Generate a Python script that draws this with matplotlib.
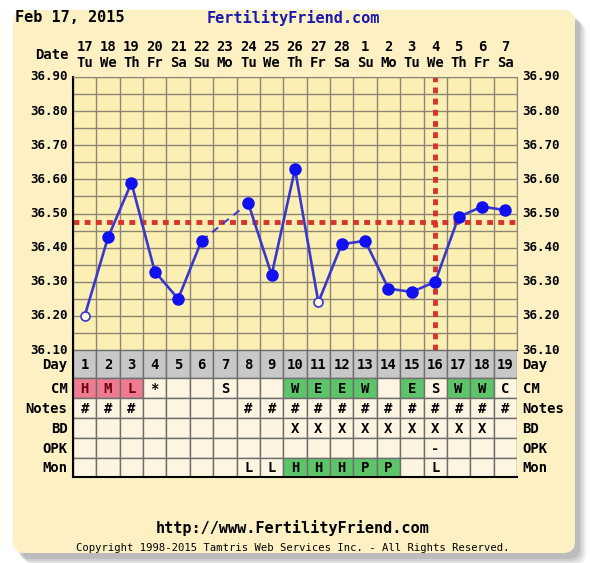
import matplotlib
matplotlib.use("Agg")
import matplotlib.pyplot as plt
import matplotlib.transforms as mtransforms
from matplotlib.patches import FancyBboxPatch, Rectangle
import numpy as np

# ---- data ----
cycle_days = list(range(1, 20))
dates = ["17", "18", "19", "20", "21", "22", "23", "24", "25", "26",
         "27", "28", "1", "2", "3", "4", "5", "6", "7"]
weekdays = ["Tu", "We", "Th", "Fr", "Sa", "Su", "Mo", "Tu", "We", "Th",
            "Fr", "Sa", "Su", "Mo", "Tu", "We", "Th", "Fr", "Sa"]
temps = [36.20, 36.43, 36.59, 36.33, 36.25, 36.42, None, 36.53, 36.32, 36.63,
         36.24, 36.41, 36.42, 36.28, 36.27, 36.30, 36.49, 36.52, 36.51]
open_days = [1, 11]          # discarded / open temperatures
coverline = 36.475
ovulation_day = 16
yticks = [36.10, 36.20, 36.30, 36.40, 36.50, 36.60, 36.70, 36.80, 36.90]

cm = {1: "H", 2: "M", 3: "L", 4: "*", 7: "S", 10: "W", 11: "E", 12: "E",
      13: "W", 15: "E", 16: "S", 17: "W", 18: "W", 19: "C"}
cm_pink = [1, 2, 3]
cm_green = [10, 11, 12, 13, 15, 17, 18]
notes = {d: "#" for d in [1, 2, 3] + list(range(8, 20))}
bd = {d: "X" for d in range(10, 19)}
opk = {16: "-"}
mon = {8: "L", 9: "L", 10: "H", 11: "H", 12: "H", 13: "P", 14: "P", 16: "L"}
mon_green = [10, 11, 12, 13, 14]
row_names = ["Day", "CM", "Notes", "BD", "OPK", "Mon"]

# ---- style ----
W, H = 590, 563
FONT = "DejaVu Sans Mono"
panel_c = "#fdf1c4"
chart_c = "#fcefb4"
cell_c = "#fdf5e1"
grid_c = "#8c8474"
blue = "#3838cc"
red = "#d8322a"

fig = plt.figure(figsize=(W / 100, H / 100), dpi=100)
fig.patch.set_facecolor("white")

def fx(px):
    return px / W

def fy(py):
    return 1 - py / H

# panel with shadow
for i, a in enumerate([0.10, 0.12, 0.15, 0.2]):
    off = 10 - i * 2
    fig.patches.append(FancyBboxPatch((fx(14 + off), fy(555 + off)), fx(562), 543 / H,
                                      boxstyle="round,pad=0,rounding_size=0.02",
                                      transform=fig.transFigure, fc="#707070",
                                      ec="none", alpha=a, zorder=-3))
fig.patches.append(FancyBboxPatch((fx(13), fy(553)), fx(562), 543 / H,
                                  boxstyle="round,pad=0,rounding_size=0.02",
                                  transform=fig.transFigure, fc=panel_c,
                                  ec="none", zorder=-2))

# ---- temperature chart ----
ax = fig.add_axes([fx(73), fy(350), fx(444), 273 / H])
ax.set_facecolor(chart_c)
ax.set_xlim(0.5, 19.5)
ax.set_ylim(36.10, 36.90)
ax.set_xticks(np.arange(0.5, 19.6, 1))
ax.set_yticks(np.arange(36.10, 36.91, 0.05))
ax.grid(True, color=grid_c, lw=1)
ax.tick_params(length=0, labelleft=False, labelbottom=False)
for s in ax.spines.values():
    s.set_color(grid_c)
ax.spines["left"].set_color("black")
ax.spines["left"].set_linewidth(1.5)
ax.spines["bottom"].set_color("black")
ax.set_axisbelow(True)

ax.axhline(coverline, color=red, lw=3.5, ls=(0, (1.2, 1.1)), zorder=2)
ax.axvline(ovulation_day, color=red, lw=3.5, ls=(0, (1.2, 1.1)), zorder=2)

# solid segments, dashed over the gap
seg_x, seg_y = [], []
prev = None
for d, t in zip(cycle_days, temps):
    if t is None:
        if seg_x:
            ax.plot(seg_x, seg_y, color=blue, lw=1.9, zorder=3)
        seg_x, seg_y = [], []
        continue
    if prev is not None and prev[0] != d - 1:
        ax.plot([prev[0], d], [prev[1], t], color=blue, lw=1.4,
                ls=(0, (4, 3)), zorder=3)
    seg_x.append(d)
    seg_y.append(t)
    prev = (d, t)
ax.plot(seg_x, seg_y, color=blue, lw=1.9, zorder=3)

for d, t in zip(cycle_days, temps):
    if t is None:
        continue
    if d in open_days:
        ax.plot(d, t, "o", ms=6.5, mfc="#fff8e8", mec=blue, mew=1.2, zorder=4)
    else:
        ax.plot(d, t, "o", ms=8, mfc="#1010f0", mec="#1010f0", zorder=4)

# y labels both sides
for v in yticks:
    ax.annotate(f"{v:.2f}", (0.5, v), xytext=(-4, 0), textcoords="offset points",
                ha="right", va="center", fontsize=9, fontweight="bold",
                family=FONT, annotation_clip=False)
    ax.annotate(f"{v:.2f}", (19.5, v), xytext=(4, 0), textcoords="offset points",
                ha="left", va="center", fontsize=9, fontweight="bold",
                family=FONT, annotation_clip=False)

# header dates
tr = mtransforms.blended_transform_factory(ax.transData, fig.transFigure)
for d, dt, wd in zip(cycle_days, dates, weekdays):
    ax.text(d, fy(47), dt, transform=tr, ha="center", va="center",
            fontsize=10, fontweight="bold", family=FONT)
    ax.text(d, fy(63), wd, transform=tr, ha="center", va="center",
            fontsize=10, fontweight="bold", family=FONT)
fig.text(fx(69), fy(55), "Date", ha="right", va="center", fontsize=10,
         fontweight="bold", family=FONT)

# ---- table ----
tab = fig.add_axes([fx(73), fy(477), fx(444), 127 / H])
heights = [28, 20, 20, 20, 20, 19]
tops = np.concatenate([[0], np.cumsum(heights)])
tab.set_xlim(0.5, 19.5)
tab.set_ylim(tops[-1], 0)
tab.axis("off")

rows = [None, cm, notes, bd, opk, mon]
for r, name in enumerate(row_names):
    y0, h = tops[r], heights[r]
    yc = y0 + h / 2
    for d in cycle_days:
        if r == 0:
            fc = "#c8c8c8"
        elif r == 1 and d in cm_pink:
            fc = "#ee7b90"
        elif (r == 1 and d in cm_green) or (r == 5 and d in mon_green):
            fc = "#5cc56a"
        else:
            fc = cell_c
        tab.add_patch(Rectangle((d - 0.5, y0), 1, h, fc=fc, ec="#6e6e6e", lw=1))
        if r == 0:
            txt = str(d)
            col = "black"
        else:
            txt = rows[r].get(d, "")
            col = "#6a0010" if (r == 1 and d in cm_pink) else "black"
        if txt:
            tab.text(d, yc + 1, txt, ha="center", va="center", fontsize=10,
                     fontweight="bold", family=FONT, color=col)
    tab.annotate(name, (0.5, yc + 1), xytext=(-4, 0), textcoords="offset points",
                 ha="right", va="center", fontsize=10, fontweight="bold",
                 family=FONT, annotation_clip=False)
    tab.annotate(name, (19.5, yc + 1), xytext=(4, 0), textcoords="offset points",
                 ha="left", va="center", fontsize=10, fontweight="bold",
                 family=FONT, annotation_clip=False)
tab.plot([0.5, 0.5], [0, tops[-1]], color="black", lw=1.5, clip_on=False)
tab.plot([0.5, 19.5], [tops[-1], tops[-1]], color="black", lw=1.5, clip_on=False)

# ---- titles / footer ----
fig.text(fx(15), fy(18), "Feb 17, 2015", ha="left", va="center", fontsize=11,
         fontweight="bold", family=FONT)
fig.text(fx(293), fy(18), "FertilityFriend.com", ha="center", va="center",
         fontsize=11, fontweight="bold", family=FONT, color="#1a1ab0")
fig.text(fx(293), fy(528), "http://www.FertilityFriend.com", ha="center",
         va="center", fontsize=11, fontweight="bold", family=FONT)
fig.text(fx(293), fy(548), "Copyright 1998-2015 Tamtris Web Services Inc. - All Rights Reserved.",
         ha="center", va="center", fontsize=7.6, family=FONT)

fig.savefig("out.png", dpi=100)
